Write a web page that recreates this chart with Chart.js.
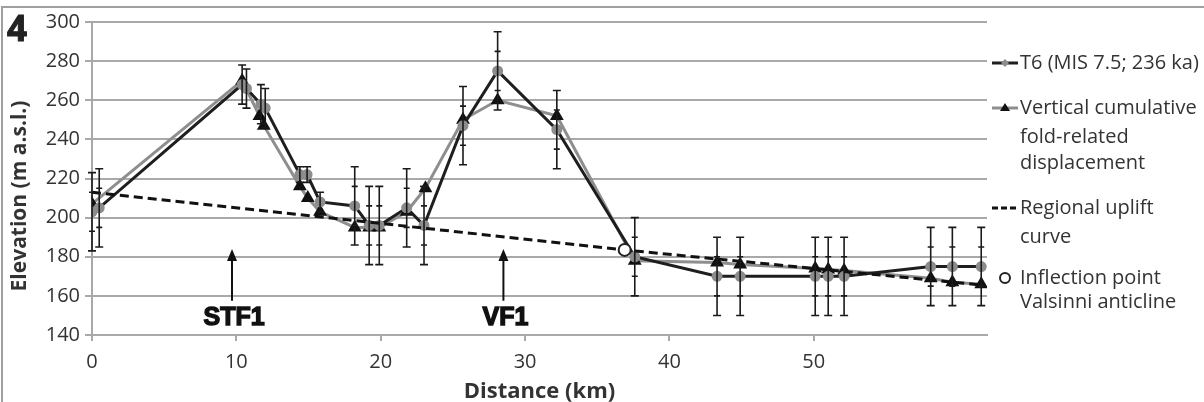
<!DOCTYPE html>
<html>
<head>
<meta charset="utf-8">
<title>Elevation profile</title>
<script src="https://cdn.jsdelivr.net/npm/chart.js@4.4.1/dist/chart.umd.min.js"></script>
<style>
  html, body { margin: 0; padding: 0; background: #fff; }
  #wrap { position: relative; width: 1204px; height: 402px; overflow: hidden; }
  #frame { position: absolute; left: 1px; top: 6px; width: 1240px; height: 440px;
           border-top: 2px solid #a0a0a0; border-left: 2px solid #a0a0a0; pointer-events: none; }
  canvas { position: absolute; left: 0; top: 0; }
</style>
</head>
<body>
<div id="wrap">
  <canvas id="profileChart" width="1204" height="402"></canvas>
  <div id="frame"></div>
</div>
<script>
// T6 terrace (MIS 7.5; 236 ka) elevations along the profile
const kmT6   = [0.0, 0.5, 10.4, 10.7, 11.7, 12.0, 14.4, 14.9, 15.8, 18.2, 19.2, 19.9, 21.8, 23.0, 25.7, 28.1, 32.2, 37.6, 43.3, 44.9, 50.1, 51.0, 52.1, 58.1, 59.6, 61.6];
const elevT6 = [203, 205, 268, 266, 258, 256, 222, 222, 208, 206, 196, 196, 205, 196, 247, 275, 245, 180, 170, 170, 170, 170, 170, 175, 175, 175];
const errT6  = [20, 20, 10, 10, 10, 10, 4, 4, 5, 20, 20, 20, 20, 20, 20, 20, 20, 20, 20, 20, 20, 20, 20, 20, 20, 20];

// vertical cumulative fold-related displacement
const kmDisp   = [0.0, 10.4, 11.6, 11.9, 14.4, 14.95, 15.8, 18.2, 19.2, 19.9, 21.8, 23.1, 25.7, 28.1, 32.2, 37.6, 43.3, 44.9, 50.1, 51.0, 52.1, 58.1, 59.6, 61.6];
const elevDisp = [207, 270, 252, 247, 216, 210, 203, 195, 195, 195, 203, 215, 250, 260, 252, 178, 177, 176, 174, 173.5, 173, 169, 167, 166];

// regional uplift curve
const kmUplift   = [0.0, 36.9, 61.7];
const elevUplift = [213, 183.5, 165.5];

// inflection point of the Valsinni anticline
const kmInflection   = [36.9];
const elevInflection = [183.5];

// fold labels with their arrows
const foldNames = ['STF1', 'VF1'];
const foldKm    = [9.7, 28.5];

const FONT = '"Open Sans", "DejaVu Sans", sans-serif';
const TEXT = '#333';
const GRID = '#a9a9a9';

const pts = (xs, ys) => xs.map((x, i) => ({ x: x, y: ys[i] }));

// error bars with caps and half-way ticks
const errorBars = {
  id: 'errorBars',
  afterDatasetsDraw(chart) {
    const { ctx, scales: { x, y } } = chart;
    ctx.save();
    ctx.strokeStyle = '#1a1a1a';
    ctx.lineWidth = 1.6;
    kmT6.forEach((km, i) => {
      const px = x.getPixelForValue(km);
      const e = errT6[i];
      const top = y.getPixelForValue(elevT6[i] + e);
      const bot = y.getPixelForValue(elevT6[i] - e);
      ctx.beginPath();
      ctx.moveTo(px, top); ctx.lineTo(px, bot);
      ctx.moveTo(px - 4, top); ctx.lineTo(px + 4, top);
      ctx.moveTo(px - 4, bot); ctx.lineTo(px + 4, bot);
      if (e >= 20) {
        const t2 = y.getPixelForValue(elevT6[i] + e / 2);
        const b2 = y.getPixelForValue(elevT6[i] - e / 2);
        ctx.moveTo(px - 3, t2); ctx.lineTo(px + 3, t2);
        ctx.moveTo(px - 3, b2); ctx.lineTo(px + 3, b2);
      }
      ctx.stroke();
    });
    ctx.restore();
  }
};

// panel number, fold arrows, axis title and the legend on the right
const extras = {
  id: 'extras',
  afterDraw(chart) {
    const { ctx, scales: { x, y } } = chart;
    ctx.save();

    ctx.fillStyle = '#222';
    ctx.strokeStyle = '#222';
    ctx.lineWidth = 1;
    ctx.font = 'bold 35px ' + FONT;
    ctx.textAlign = 'left';
    ctx.textBaseline = 'alphabetic';
    ctx.fillText('4', 7, 41);
    ctx.strokeText('4', 7, 41);

    // fold arrows
    foldNames.forEach((name, i) => {
      const px = x.getPixelForValue(foldKm[i]);
      const tip = y.getPixelForValue(184);
      const base = y.getPixelForValue(157.5);
      ctx.strokeStyle = '#111';
      ctx.fillStyle = '#111';
      ctx.lineWidth = 2;
      ctx.beginPath();
      ctx.moveTo(px, base); ctx.lineTo(px, tip + 10);
      ctx.stroke();
      ctx.beginPath();
      ctx.moveTo(px, tip); ctx.lineTo(px - 5, tip + 12); ctx.lineTo(px + 5, tip + 12);
      ctx.closePath();
      ctx.fill();
      ctx.font = 'bold 25px "Liberation Sans", Arial, sans-serif';
      ctx.textAlign = 'center';
      ctx.textBaseline = 'middle';
      ctx.lineWidth = 1.4;
      const ty = y.getPixelForValue(148.7);
      ctx.fillText(name, px + 2, ty);
      ctx.strokeText(name, px + 2, ty);
    });

    // y axis title
    ctx.fillStyle = TEXT;
    ctx.font = 'bold 21px ' + FONT;
    ctx.translate(20, 196);
    ctx.rotate(-Math.PI / 2);
    ctx.textAlign = 'center';
    ctx.textBaseline = 'middle';
    ctx.fillText('Elevation (m a.s.l.)', 0, 0);
    ctx.setTransform(1, 0, 0, 1, 0, 0);

    // legend
    const lx = 1020;
    ctx.font = '20px ' + FONT;
    ctx.textAlign = 'left';
    ctx.textBaseline = 'middle';
    ctx.fillStyle = TEXT;
    const rows = [
      ['T6 (MIS 7.5; 236 ka)', 63],
      ['Vertical cumulative', 108], ['fold-related', 137], ['displacement', 163],
      ['Regional uplift', 208], ['curve', 237],
      ['Inflection point', 278], ['Valsinni anticline', 302]
    ];
    rows.forEach(r => ctx.fillText(r[0], lx, r[1]));

    // legend symbols
    ctx.lineWidth = 3;
    ctx.strokeStyle = '#1e1e1e';
    ctx.beginPath(); ctx.moveTo(992, 63); ctx.lineTo(1018, 63); ctx.stroke();
    ctx.fillStyle = '#8c8c8c';
    ctx.beginPath();
    ctx.moveTo(1005, 59); ctx.lineTo(1009, 63); ctx.lineTo(1005, 67); ctx.lineTo(1001, 63);
    ctx.closePath(); ctx.fill();

    ctx.strokeStyle = '#8e8e8e';
    ctx.beginPath(); ctx.moveTo(992, 108); ctx.lineTo(1018, 108); ctx.stroke();
    ctx.fillStyle = '#111';
    ctx.beginPath();
    ctx.moveTo(1005, 103); ctx.lineTo(1010, 111); ctx.lineTo(1000, 111);
    ctx.closePath(); ctx.fill();

    ctx.strokeStyle = '#111';
    ctx.setLineDash([6, 3]);
    ctx.beginPath(); ctx.moveTo(992, 208); ctx.lineTo(1018, 208); ctx.stroke();
    ctx.setLineDash([]);

    ctx.lineWidth = 2;
    ctx.strokeStyle = '#222';
    ctx.fillStyle = '#fff';
    ctx.beginPath(); ctx.arc(1005, 278, 5, 0, Math.PI * 2); ctx.fill(); ctx.stroke();

    ctx.restore();
  }
};

const ctx = document.getElementById('profileChart').getContext('2d');
const profileChart = new Chart(ctx, {
  type: 'line',
  data: {
    datasets: [
      {
        label: 'Inflection point Valsinni anticline',
        data: pts(kmInflection, elevInflection),
        showLine: false,
        pointStyle: 'circle',
        pointRadius: 6,
        pointBackgroundColor: '#fff',
        pointBorderColor: '#222',
        pointBorderWidth: 2
      },
      {
        label: 'Regional uplift curve',
        data: pts(kmUplift, elevUplift),
        borderColor: '#111',
        borderWidth: 3,
        borderDash: [9, 5],
        pointRadius: 0
      },
      {
        label: 'T6 (MIS 7.5; 236 ka)',
        data: pts(kmT6, elevT6),
        borderColor: '#1e1e1e',
        borderWidth: 3,
        pointStyle: 'circle',
        pointRadius: 4,
        pointBackgroundColor: '#8c8c8c',
        pointBorderColor: '#8c8c8c'
      },
      {
        label: 'Vertical cumulative fold-related displacement',
        data: pts(kmDisp, elevDisp),
        borderColor: '#8e8e8e',
        borderWidth: 3,
        pointStyle: 'triangle',
        pointRadius: 5,
        pointBackgroundColor: '#111',
        pointBorderColor: '#111'
      }
    ]
  },
  options: {
    responsive: false,
    animation: false,
    layout: { padding: { left: 0, right: 217, top: 22, bottom: 0 } },
    plugins: {
      legend: { display: false },
      tooltip: { enabled: false }
    },
    scales: {
      x: {
        type: 'linear',
        min: 0,
        max: 62,
        afterFit: s => { s.height = 67; },
        afterBuildTicks: s => { s.ticks = s.ticks.filter(t => t.value % 10 === 0); },
        grid: { drawOnChartArea: false, drawTicks: true, tickLength: 6, color: GRID, lineWidth: 2 },
        border: { display: true, color: GRID, width: 2 },
        ticks: { stepSize: 10, padding: 9, color: TEXT, font: { family: FONT, size: 20 } },
        title: {
          display: true,
          text: 'Distance (km)',
          color: TEXT,
          font: { family: FONT, size: 22, weight: 'bold' },
          padding: { top: 0, bottom: -3 }
        }
      },
      y: {
        min: 140,
        max: 300,
        afterFit: s => { s.width = 92; },
        grid: { color: GRID, lineWidth: 2, tickLength: 7 },
        border: { display: true, color: GRID, width: 2 },
        ticks: { stepSize: 20, padding: 5, color: TEXT, font: { family: FONT, size: 20 } }
      }
    }
  },
  plugins: [errorBars, extras]
});
</script>
</body>
</html>
